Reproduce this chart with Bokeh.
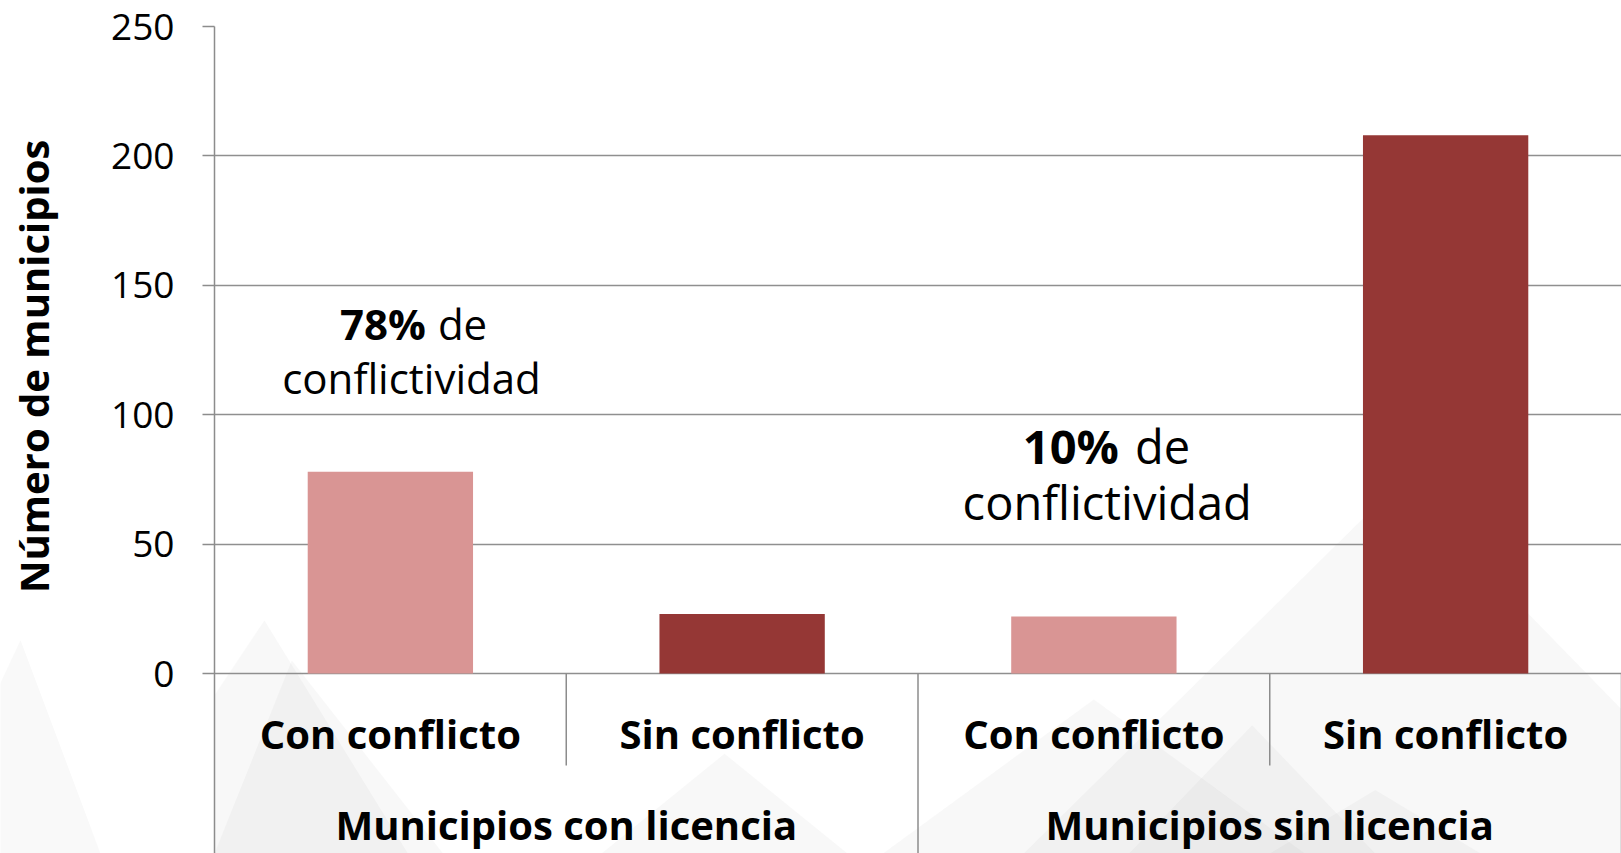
import math
from bokeh.plotting import figure
from bokeh.layouts import row
from bokeh.models import FactorRange, Range1d, FixedTicker, ColumnDataSource
from bokeh.embed import file_html
from bokeh.resources import INLINE
from bokeh.core.properties import value

# ---------------- data ----------------
groups = ["Municipios con licencia", "Municipios sin licencia"]
subcats = ["Con conflicto", "Sin conflicto"]
counts = [78, 23, 22, 208]
bar_colors = ["#D99594", "#953735", "#D99594", "#953735"]
y_ticks = [0, 50, 100, 150, 200, 250]
y_title = "Número de municipios"
pct_labels = ["78%", "10%"]
pct_rest = ["de", "de"]
pct_line2 = ["conflictividad", "conflictividad"]

FONT = "Open Sans"
factors = [(g, s) for g in groups for s in subcats]

W, H = 1621, 853
TITLE_W = 100          # strip holding the y-axis title
LEFT, TOP = 214, 26    # frame origin on the page

# ---------------- left strip with the axis title ----------------
pt = figure(width=TITLE_W, height=H, x_range=Range1d(0, TITLE_W), y_range=Range1d(0, H),
            output_backend="svg", toolbar_location=None,
            x_axis_location=None, y_axis_location=None,
            min_border_left=0, min_border_right=0, min_border_top=0, min_border_bottom=0,
            outline_line_color=None, background_fill_color="white", border_fill_color="white")
pt.xgrid.visible = False
pt.ygrid.visible = False
pt.patches([[-80, 20, 100]], [[0, 220, 0]],
           fill_color="#9a9a9a", fill_alpha=0.06, line_color=None)
pt.text(x=[33], y=[H - 350.5], text=[y_title], angle=math.pi / 2,
        text_font=value(FONT), text_font_style="bold", text_font_size="40px",
        text_align="center", text_baseline="middle", text_color="black")

# ---------------- main chart ----------------
p = figure(
    width=W - TITLE_W, height=H,
    x_range=FactorRange(*factors, factor_padding=0, group_padding=0, range_padding=0),
    y_range=Range1d(-69.55, 250),
    x_axis_location=None,
    output_backend="svg", toolbar_location=None,
    min_border_left=LEFT - TITLE_W, min_border_right=0, min_border_top=TOP, min_border_bottom=0,
    outline_line_color=None, background_fill_color="white", border_fill_color="white",
)

# faint decorative background triangles (watermark)
bg_tri_xs = [[-0.3, 0.142, 0.55], [0.0, 0.22, 0.65], [1.1, 1.45, 1.8],
             [2.3, 3.37, 4.4], [3.0, 3.3, 3.6], [2.6, 2.95, 3.3], [1.9, 2.5, 3.1]]
bg_tri_ys = [[-69.6, 20.5, -69.6], [-69.6, 5, -69.6], [-69.6, -31, -69.6],
             [-69.6, 74, -69.6], [-69.6, -45, -69.6], [-69.6, -20, -69.6], [-69.6, -10, -69.6]]
p.patches(bg_tri_xs, bg_tri_ys, fill_color="#9a9a9a", fill_alpha=0.07, line_color=None)

# bars
src = ColumnDataSource(dict(x=factors, top=counts, color=bar_colors))
p.vbar(x="x", top="top", width=0.47, bottom=0, fill_color="color", line_color=None, source=src)

# category dividers below the zero line
n = len(factors)
sub_x = [i for i in range(1, n) if i % len(subcats) != 0]
grp_x = [i * len(subcats) for i in range(1, len(groups) + 1)]
p.segment(x0=sub_x, y0=[0] * len(sub_x), x1=sub_x, y1=[-35.5] * len(sub_x),
          line_color="#8c8c8c", line_width=1.5)
p.segment(x0=grp_x, y0=[0] * len(grp_x), x1=grp_x, y1=[-69.6] * len(grp_x),
          line_color="#8c8c8c", line_width=1.5)

# category labels
p.text(x=factors, y=[-23.2] * n, text=[f[1] for f in factors],
       text_font=value(FONT), text_font_style="bold", text_font_size="40px",
       text_align="center", text_baseline="alphabetic", text_color="black")
p.text(x=groups, y=[-58.2] * len(groups), text=groups,
       text_font=value(FONT), text_font_style="bold", text_font_size="40px",
       text_align="center", text_baseline="alphabetic", text_color="black")

# annotations
ann_anchor = [(groups[0], subcats[0], 0.118), (groups[1], subcats[0], 0.094)]
ann_center = [(groups[0], subcats[0], 0.06), (groups[1], subcats[0], 0.038)]
ann_y1 = [135.3, 87.9]
ann_y2 = [114.2, 66.1]
ann_size = ["42px", "47px"]
ann_gap = [6, 8]
asrc = ColumnDataSource(dict(xa=ann_anchor, xc=ann_center, y1=ann_y1, y2=ann_y2,
                             pct=pct_labels, rest=pct_rest, l2=pct_line2, size=ann_size,
                             neg=[-g for g in ann_gap], pos=ann_gap))
p.text(x="xa", y="y1", text="pct", x_offset="neg", source=asrc,
       text_font=value(FONT), text_font_style="bold", text_font_size="size",
       text_align="right", text_baseline="alphabetic", text_color="black")
p.text(x="xa", y="y1", text="rest", x_offset="pos", source=asrc,
       text_font=value(FONT), text_font_size="size",
       text_align="left", text_baseline="alphabetic", text_color="black")
p.text(x="xc", y="y2", text="l2", source=asrc,
       text_font=value(FONT), text_font_size="size",
       text_align="center", text_baseline="alphabetic", text_color="black")

# axes / grid
p.xgrid.visible = False
p.ygrid.ticker = FixedTicker(ticks=y_ticks)
p.ygrid.grid_line_color = "#8f8f8f"
p.ygrid.grid_line_width = 1.6

ax = p.yaxis[0]
ax.ticker = FixedTicker(ticks=y_ticks)
ax.major_label_text_font = FONT
ax.major_label_text_font_size = "37px"
ax.major_label_text_color = "black"
ax.major_label_standoff = 28
ax.major_tick_out = 12
ax.major_tick_in = 0
ax.minor_tick_line_color = None
ax.axis_line_color = "#8c8c8c"
ax.axis_line_width = 1.5
ax.major_tick_line_color = "#8c8c8c"
ax.major_tick_line_width = 1.5

layout = row(pt, p, spacing=0)
open("out.html", "w").write(file_html(layout, INLINE))
